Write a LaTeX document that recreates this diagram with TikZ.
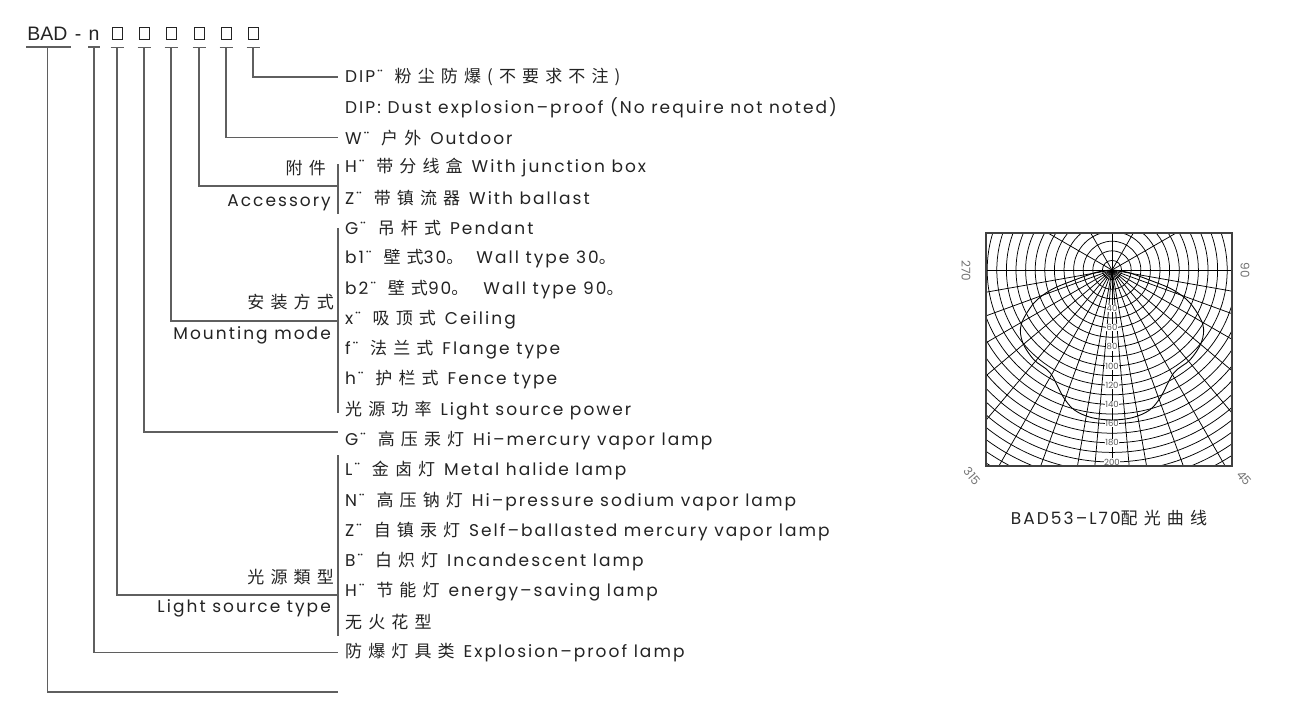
\documentclass[tikz,border=0pt]{standalone}
\usepackage{fontspec}
\usepackage{tikz}
\usetikzlibrary{calc}
\setmainfont{Poppins}
\newfontfamily\headfont{Liberation Sans}
\newfontfamily\rowfont[LetterSpace=12]{Poppins}
\newfontfamily\cjk[LetterSpace=36]{Noto Sans CJK SC}
\newcommand{\cn}[1]{{\cjk #1}}
\newcommand{\gapcode}{\hspace{12pt}}
\newcommand{\gapcn}{\hspace{9pt}}
\definecolor{linegray}{RGB}{95,95,95}
\definecolor{textgray}{RGB}{35,35,35}

\begin{document}
\begin{tikzpicture}[x=1pt, y=-1pt,
    conn/.style={draw=linegray, line width=1.15pt},
    rowtext/.style={anchor=west, inner sep=0pt, text=textgray, font=\rowfont\fontsize{17}{19}\selectfont},
    grouplabel/.style={anchor=east, inner sep=0pt, text=textgray, font=\rowfont\fontsize{17}{19}\selectfont},
    headtext/.style={anchor=base, inner sep=0pt, text=textgray, font=\headfont\fontsize{19.5}{22}\selectfont},
    sq/.style={draw=textgray, line width=0.8pt, minimum width=10pt, minimum height=12pt, inner sep=0pt},
    grid/.style={line width=0.75pt, black},
    tick/.style={inner sep=0pt, text=black!55, font=\normalfont\fontsize{12}{13}\selectfont},
    ringlabel/.style={inner sep=0.6pt, fill=white, text=black!65, font=\normalfont\fontsize{8.5}{9}\selectfont}]
  \useasboundingbox (0,0) rectangle (1300,718);

  % code header
  \node[headtext] (bad) at (47.5,40) {BAD};
  \node[headtext] (dash) at (78,40) {-};
  \node[headtext] (n) at (94,40) {n};
  \foreach \x [count=\i] in {117,144,171,199,226,253}
    \node[sq] (b\i) at (\x,33) {};
  \draw[conn] (bad.base west) ++(-1,7) -- ++(45,0);
  \draw[conn] (n.base) ++(-6,7) -- ++(12,0);
  \foreach \i in {1,...,6}
    \draw[conn] (b\i.south) ++(-6.5,8) -- ++(13,0);

  % rows
  \foreach \t [count=\i] in {
      {DIP¨\gapcode\cn{粉尘防爆(不要求不注)}},
      {DIP: Dust explosion–proof (No require not noted)},
      {W¨\gapcode\cn{户外}\gapcn Outdoor},
      {H¨\gapcode\cn{带分线盒}\gapcn With junction box},
      {Z¨\gapcode\cn{带镇流器}\gapcn With ballast},
      {G¨\gapcode\cn{吊杆式}\gapcn Pendant},
      {b1¨\gapcode\cn{壁式}30\cn{。}\hspace{13pt}Wall type 30\cn{。}},
      {b2¨\gapcode\cn{壁式}90\cn{。}\hspace{15pt}Wall type 90\cn{。}},
      {x¨\gapcode\cn{吸顶式}\gapcn Ceiling},
      {f¨\gapcode\cn{法兰式}\gapcn Flange type},
      {h¨\gapcode\cn{护栏式}\gapcn Fence type},
      {\cn{光源功率}\gapcn Light source power},
      {G¨\gapcode\cn{高压汞灯}\gapcn Hi–mercury vapor lamp},
      {L¨\gapcode\cn{金卤灯}\gapcn Metal halide lamp},
      {N¨\gapcode\cn{高压钠灯}\gapcn Hi–pressure sodium vapor lamp},
      {Z¨\gapcode\cn{自镇汞灯}\gapcn Self–ballasted mercury vapor lamp},
      {B¨\gapcode\cn{白炽灯}\gapcn Incandescent lamp},
      {H¨\gapcode\cn{节能灯}\gapcn energy–saving lamp},
      {\cn{无火花型}},
      {\cn{防爆灯具类}\gapcn Explosion–proof lamp}}
    \node[rowtext] (r\i) at (345,{77+30.3*(\i-1)}) {\t};

  % group labels
  \node[grouplabel] (accCn) at (326,168) {\cn{附件}};
  \node[grouplabel] (accEn) at (331,203) {Accessory};
  \node[grouplabel] (mountCn) at (334,302) {\cn{安装方式}};
  \node[grouplabel] (mountEn) at (331,335) {Mounting mode};
  \node[grouplabel] (srcCn) at (334,577) {\cn{光源類型}};
  \node[grouplabel] (srcEn) at (331,608) {Light source type};

  % brackets
  \coordinate (accTop) at (338,164);
  \coordinate (accMid) at (338,186);
  \coordinate (accBot) at (338,214);
  \coordinate (mountTop) at (338,228);
  \coordinate (mountMid) at (338,321);
  \coordinate (mountBot) at (338,413);
  \coordinate (lampEnd) at (338,432);
  \coordinate (srcTop) at (338,455);
  \coordinate (srcMid) at (338,595);
  \coordinate (srcBot) at (338,636);
  \coordinate (allEnd) at (338,692);
  \draw[conn] (accTop) -- (accBot);
  \draw[conn] (mountTop) -- (mountBot);
  \draw[conn] (srcTop) -- (srcBot);

  % connectors
  \draw[conn] (b6.south) ++(0,8) |- ([xshift=-7pt]r1.west);
  \draw[conn] (b5.south) ++(0,8) |- ([xshift=-7pt]r3.west);
  \draw[conn] (b4.south) ++(0,8) |- (accMid);
  \draw[conn] (b3.south) ++(0,8) |- (mountMid);
  \draw[conn] (b2.south) ++(0,8) |- (lampEnd);
  \draw[conn] (b1.south) ++(0,8) |- (srcMid);
  \draw[conn] (n.base) ++(0,7) |- ([xshift=-7pt]r20.west);
  \draw[conn] (bad.base) ++(0,7) |- (allEnd);

  % light distribution chart
  \coordinate (c) at (1112,270);
  \begin{scope}
    \clip (986,233) rectangle (1232,466);
    \foreach \r in {10,20,...,250}
      \draw[grid] (c) circle ({\r*0.96});
    \foreach \a in {0,10,...,180,85,95}
      \draw[grid] (c) -- ++(\a:260);
    \foreach \a in {210,240,270,300,330}
      \draw[grid] (c) -- ++(\a:260);
  \end{scope}
  \foreach \r in {40,60,...,200}
    \node[ringlabel] (ring\r) at ($(c)+(90:{\r*0.96})$) {\r};
  \begin{scope}[shift={(1112,270)}]
    \draw[line width=0.9pt, black] plot[smooth, tension=0.55] coordinates {
      (180:0) (172:15) (165:39) (162:64) (157:85) (149:106) (141:115)
      (131:119) (121:120) (111:136) (105:145) (98:149) (90:150)
      (82:149) (75:145) (69:136) (59:120) (49:119) (39:115) (31:106)
      (23:85) (18:64) (15:39) (8:15) (0:0)};
  \end{scope}
  \draw[line width=1.5pt, black!75] (986,233) rectangle (1232,466);
  \node[tick, rotate=-90] (lab270) at (966,271) {270};
  \node[tick, rotate=-90] (lab90) at (1245,270) {90};
  \node[tick, rotate=-50] (lab315) at (972,476) {315};
  \node[tick, rotate=-50] (lab45) at (1244,478) {45};
  \node[inner sep=0pt, text=textgray, font=\rowfont\fontsize{17}{19}\selectfont] (cap) at (1109,518) {BAD53–L70\cn{配光曲线}};
\end{tikzpicture}
\end{document}
